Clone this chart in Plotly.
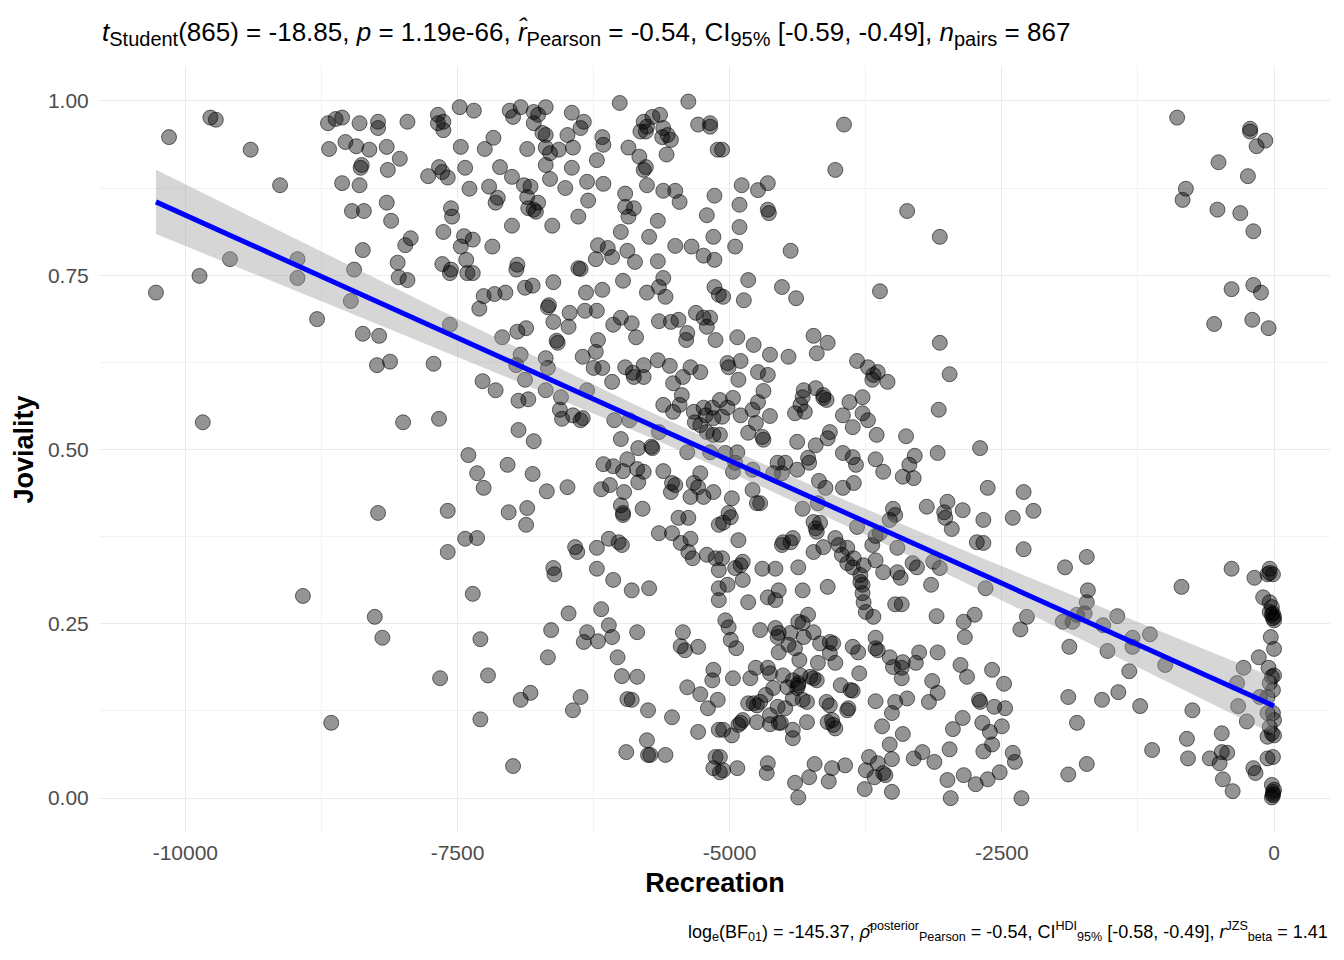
import numpy as np
import plotly.graph_objects as go

# (recreation, joviality) pairs, grouped by region
far_left = [
    (-10150, 0.948), (-9770, 0.976), (-9720, 0.973), (-9400, 0.930), (-9130, 0.879),
    (-9590, 0.773), (-9870, 0.749), (-10270, 0.725), (-8970, 0.773), (-8970, 0.746),
    (-8790, 0.687), (-8480, 0.713), (-8450, 0.758), (-8370, 0.786), (-8370, 0.666),
    (-8220, 0.663), (-8690, 0.968), (-8620, 0.974), (-8560, 0.976), (-8400, 0.968),
    (-8230, 0.970), (-8230, 0.961), (-7960, 0.970), (-8680, 0.931), (-8530, 0.941),
    (-8430, 0.935), (-8310, 0.930), (-8150, 0.934), (-8030, 0.917), (-8390, 0.904),
    (-8380, 0.908), (-8140, 0.901), (-8560, 0.882), (-8400, 0.879), (-8150, 0.854),
    (-8470, 0.842), (-8360, 0.842), (-8110, 0.828), (-7980, 0.793), (-7930, 0.803),
    (-8050, 0.768), (-8040, 0.747), (-7960, 0.743), (-8240, 0.621), (-8120, 0.626),
    (-9840, 0.539), (-8000, 0.539), (-8230, 0.409), (-8920, 0.290), (-8260, 0.260),
    (-8190, 0.230), (-8660, 0.108),
]

upper_mid = [
    (-7680, 0.980), (-7630, 0.970), (-7630, 0.958), (-7680, 0.968), (-7480, 0.991),
    (-7350, 0.986), (-7020, 0.986), (-6990, 0.977), (-6920, 0.991), (-6800, 0.984),
    (-6760, 0.980), (-6690, 0.991), (-6800, 0.968), (-6720, 0.954), (-6690, 0.951),
    (-6450, 0.983), (-6340, 0.970), (-6370, 0.961), (-6010, 0.997), (-5380, 0.999),
    (-6490, 0.951), (-6170, 0.948), (-6160, 0.937), (-5790, 0.970), (-5760, 0.963),
    (-5710, 0.977), (-5640, 0.980), (-5770, 0.956), (-5820, 0.956), (-5610, 0.961),
    (-5620, 0.948), (-5570, 0.951), (-5540, 0.944), (-5290, 0.966), (-5180, 0.968),
    (-5180, 0.963), (-7470, 0.934), (-7250, 0.931), (-7170, 0.947), (-6860, 0.931),
    (-6690, 0.933), (-6650, 0.925), (-6570, 0.930), (-6440, 0.933), (-6690, 0.908),
    (-6450, 0.904), (-6220, 0.915), (-5930, 0.933), (-5830, 0.920), (-5770, 0.905),
    (-5790, 0.901), (-5580, 0.923), (-5110, 0.930), (-7670, 0.905), (-7770, 0.892),
    (-7640, 0.898), (-7590, 0.890), (-7430, 0.904), (-7110, 0.905), (-7000, 0.891),
    (-7390, 0.874), (-7210, 0.877), (-6890, 0.879), (-6830, 0.877), (-6860, 0.862),
    (-6650, 0.888), (-6510, 0.875), (-6310, 0.884), (-6160, 0.881), (-5760, 0.879),
    (-5610, 0.871), (-5500, 0.871), (-5460, 0.855), (-5960, 0.867), (-7130, 0.861),
    (-7150, 0.854), (-6760, 0.854), (-6800, 0.844), (-6850, 0.846), (-6780, 0.841),
    (-6300, 0.857), (-7560, 0.846), (-7550, 0.834), (-5960, 0.848), (-5880, 0.846),
    (-5930, 0.834), (-6390, 0.834), (-5140, 0.864), (-5210, 0.836), (-5660, 0.828),
    (-7000, 0.821), (-6630, 0.821), (-7630, 0.812), (-6000, 0.812), (-5740, 0.805),
    (-5150, 0.805), (-7440, 0.806), (-7360, 0.801), (-7470, 0.791), (-7180, 0.791),
    (-6210, 0.793), (-6120, 0.789), (-6230, 0.773), (-6080, 0.776), (-5940, 0.785),
    (-5870, 0.769), (-5500, 0.792), (-5350, 0.791), (-5240, 0.778), (-5140, 0.772),
    (-5660, 0.770), (-7640, 0.766), (-7560, 0.758), (-7570, 0.753), (-7420, 0.772),
    (-7410, 0.753), (-7360, 0.753), (-6950, 0.765), (-6960, 0.758), (-6390, 0.760),
    (-6370, 0.759), (-6620, 0.740), (-5980, 0.742), (-5610, 0.746), (-5650, 0.733),
    (-5590, 0.719), (-5760, 0.725), (-5140, 0.733), (-5100, 0.722), (-7260, 0.720),
    (-7160, 0.723), (-7060, 0.725), (-7300, 0.702), (-6880, 0.732), (-6810, 0.735),
    (-6320, 0.725), (-6170, 0.729), (-6670, 0.704), (-6660, 0.707), (-6620, 0.683),
    (-6470, 0.696), (-6480, 0.676), (-6330, 0.699), (-6220, 0.699), (-6070, 0.679),
    (-6000, 0.689), (-5900, 0.681), (-5860, 0.661), (-5650, 0.684), (-5540, 0.683),
    (-5470, 0.686), (-5310, 0.696), (-5240, 0.689), (-5210, 0.676), (-5180, 0.689),
    (-5390, 0.667), (-5400, 0.657), (-5130, 0.657), (-7570, 0.679), (-7090, 0.661),
    (-6950, 0.669), (-6870, 0.674), (-6590, 0.656), (-6580, 0.653), (-6210, 0.657),
]

upper_right = [
    (-3950, 0.966), (-5070, 0.930), (-4030, 0.901), (-4890, 0.879), (-4740, 0.872),
    (-4650, 0.882), (-4910, 0.851), (-4650, 0.844), (-4640, 0.839), (-3370, 0.842),
    (-4910, 0.819), (-3070, 0.805), (-4950, 0.791), (-4440, 0.785), (-4830, 0.743),
    (-5060, 0.719), (-4870, 0.714), (-4520, 0.733), (-4390, 0.717), (-3620, 0.727),
    (-4930, 0.661), (-4230, 0.663), (-4100, 0.653), (-3070, 0.653), (-4780, 0.650),
    (-890, 0.976), (-220, 0.960), (-220, 0.956), (-80, 0.943), (-160, 0.935),
    (-510, 0.912), (-240, 0.892), (-810, 0.874), (-840, 0.858), (-520, 0.844),
    (-310, 0.839), (-190, 0.813), (-390, 0.730), (-190, 0.736), (-120, 0.725),
    (-550, 0.680), (-200, 0.686), (-50, 0.674),
]

middle_mid = [
    (-7720, 0.623), (-7270, 0.598), (-7150, 0.585), (-6960, 0.621), (-6920, 0.636),
    (-6880, 0.600), (-6690, 0.631), (-6670, 0.617), (-6690, 0.585), (-6940, 0.570),
    (-6850, 0.572), (-6550, 0.575), (-6560, 0.557), (-6540, 0.544), (-6440, 0.549),
    (-6370, 0.542), (-6350, 0.545), (-6350, 0.633), (-6250, 0.617), (-6170, 0.617),
    (-6230, 0.640), (-6310, 0.585), (-6080, 0.597), (-5960, 0.618), (-5890, 0.610),
    (-5790, 0.604), (-5790, 0.621), (-5880, 0.604), (-5660, 0.628), (-5550, 0.620),
    (-5360, 0.618), (-5270, 0.611), (-5430, 0.604), (-5520, 0.595), (-5440, 0.578),
    (-5610, 0.564), (-5520, 0.554), (-5460, 0.564), (-5330, 0.554), (-5240, 0.560),
    (-5160, 0.560), (-5150, 0.545), (-5320, 0.539), (-5270, 0.535), (-5220, 0.549),
    (-5210, 0.525), (-5150, 0.521), (-6060, 0.542), (-5920, 0.542), (-6000, 0.515),
    (-7670, 0.544), (-6940, 0.528), (-6800, 0.512), (-5840, 0.502), (-5720, 0.504),
    (-5710, 0.502), (-5650, 0.525), (-5390, 0.496), (-5180, 0.496), (-7400, 0.492),
    (-7320, 0.466), (-7260, 0.445), (-7040, 0.478), (-6810, 0.465), (-6680, 0.440),
    (-6490, 0.446), (-6160, 0.479), (-6070, 0.476), (-5940, 0.486), (-5980, 0.469),
    (-5850, 0.472), (-5790, 0.468), (-5840, 0.453), (-6180, 0.443), (-6100, 0.449),
    (-5970, 0.439), (-5610, 0.469), (-5530, 0.452), (-5500, 0.449), (-5540, 0.439),
    (-5330, 0.452), (-5290, 0.446), (-5270, 0.466), (-5360, 0.432), (-5240, 0.432),
    (-5150, 0.439), (-6000, 0.420), (-5980, 0.409), (-5980, 0.406), (-5800, 0.415),
    (-7590, 0.412), (-7030, 0.410), (-6860, 0.416), (-6870, 0.392), (-5470, 0.402),
    (-5380, 0.402), (-5100, 0.392), (-5650, 0.380), (-5530, 0.380), (-7430, 0.372),
    (-7320, 0.373), (-7590, 0.353), (-6420, 0.360), (-6400, 0.353), (-6220, 0.359),
    (-6110, 0.372), (-6020, 0.367), (-5990, 0.363), (-5450, 0.366), (-5360, 0.372),
    (-5380, 0.353), (-5340, 0.344), (-5210, 0.349), (-5130, 0.344), (-5100, 0.327),
    (-6620, 0.330), (-6610, 0.321), (-6220, 0.329), (-6070, 0.313), (-5900, 0.298),
    (-5740, 0.301), (-7360, 0.293), (-5100, 0.301), (-5100, 0.284),
]

middle_right = [
    (-4630, 0.636), (-4460, 0.633), (-4200, 0.638), (-5020, 0.624), (-5010, 0.618),
    (-4900, 0.627), (-4920, 0.600), (-4740, 0.611), (-4650, 0.607), (-3830, 0.627),
    (-3730, 0.618), (-3680, 0.607), (-3640, 0.611), (-3550, 0.597), (-3690, 0.600),
    (-2980, 0.608), (-4970, 0.574), (-5090, 0.571), (-4690, 0.584), (-4740, 0.568),
    (-4330, 0.575), (-4320, 0.585), (-4210, 0.588), (-4140, 0.578), (-4110, 0.571),
    (-4140, 0.574), (-4350, 0.564), (-3900, 0.568), (-3780, 0.575), (-5020, 0.560),
    (-4900, 0.549), (-4790, 0.557), (-4630, 0.548), (-4400, 0.552), (-4310, 0.554),
    (-3960, 0.549), (-3780, 0.552), (-3730, 0.542), (-3870, 0.532), (-3080, 0.557),
    (-5070, 0.547), (-4760, 0.538), (-4830, 0.524), (-4700, 0.518), (-4690, 0.514),
    (-5090, 0.521), (-4380, 0.511), (-4210, 0.506), (-4080, 0.525), (-4100, 0.516),
    (-3650, 0.521), (-3380, 0.519), (-4930, 0.496), (-5040, 0.495), (-4950, 0.481),
    (-4790, 0.471), (-4970, 0.468), (-4280, 0.488), (-4270, 0.481), (-4560, 0.481),
    (-4490, 0.481), (-4380, 0.471), (-4600, 0.466), (-4520, 0.466), (-3960, 0.495),
    (-3870, 0.489), (-3840, 0.478), (-3660, 0.486), (-3590, 0.468), (-3300, 0.491),
    (-3350, 0.478), (-3410, 0.461), (-3310, 0.459), (-3090, 0.495), (-2700, 0.502),
    (-4180, 0.455), (-4120, 0.445), (-3960, 0.445), (-3860, 0.452), (-4790, 0.442),
    (-4980, 0.430), (-4750, 0.423), (-4720, 0.423), (-2630, 0.445), (-2300, 0.439),
    (-4330, 0.415), (-4190, 0.423), (-3500, 0.415), (-3480, 0.406), (-3530, 0.399),
    (-3190, 0.418), (-3000, 0.425), (-3030, 0.410), (-3020, 0.402), (-2960, 0.386),
    (-2860, 0.413), (-2670, 0.399), (-2400, 0.402), (-2210, 0.412), (-5060, 0.395),
    (-4990, 0.403), (-5010, 0.409), (-4230, 0.396), (-4210, 0.387), (-4200, 0.382),
    (-4170, 0.395), (-3830, 0.389), (-3660, 0.376), (-3620, 0.380), (-3690, 0.363),
    (-3460, 0.359), (-4920, 0.370), (-4510, 0.367), (-4440, 0.367), (-4420, 0.373),
    (-4520, 0.363), (-4230, 0.353), (-4140, 0.360), (-4030, 0.373), (-4000, 0.363),
    (-3920, 0.359), (-3970, 0.349), (-2730, 0.367), (-2670, 0.366), (-2300, 0.357),
    (-5070, 0.344), (-4900, 0.334), (-4880, 0.339), (-4950, 0.330), (-4700, 0.329),
    (-4580, 0.329), (-4370, 0.331), (-3920, 0.337), (-3860, 0.344), (-3870, 0.331),
    (-3770, 0.334), (-3660, 0.341), (-3320, 0.337), (-3280, 0.331), (-3130, 0.339),
    (-3070, 0.330), (-3590, 0.324), (-3460, 0.324), (-3430, 0.316), (-3800, 0.320),
    (-3800, 0.310), (-3780, 0.306), (-4880, 0.313), (-5020, 0.306), (-4550, 0.298),
    (-4650, 0.288), (-4580, 0.284), (-4330, 0.298), (-4100, 0.303), (-3780, 0.294),
    (-3770, 0.281), (-3150, 0.306), (-2650, 0.301), (-4830, 0.281), (-3480, 0.278),
    (-3420, 0.278), (-1920, 0.331), (-1720, 0.346), (-1710, 0.298), (-1720, 0.281),
    (-850, 0.303), (-390, 0.329), (-180, 0.316), (-60, 0.321), (-40, 0.323),
    (-10, 0.321),
]

lower_mid = [
    (-6480, 0.265), (-6180, 0.271), (-6110, 0.248), (-6080, 0.231), (-6310, 0.238),
    (-6340, 0.224), (-6210, 0.225), (-6640, 0.241), (-7290, 0.228), (-6670, 0.202),
    (-6030, 0.202), (-5850, 0.238), (-5430, 0.238), (-5450, 0.218), (-5410, 0.212),
    (-5290, 0.217), (-7660, 0.172), (-7220, 0.176), (-5990, 0.175), (-5850, 0.174),
    (-5150, 0.184), (-5160, 0.169), (-6830, 0.151), (-6920, 0.141), (-6370, 0.145),
    (-6440, 0.126), (-5940, 0.142), (-5900, 0.141), (-5750, 0.126), (-5530, 0.116),
    (-5390, 0.159), (-5270, 0.149), (-5200, 0.129), (-5110, 0.141), (-7290, 0.113),
    (-5290, 0.095), (-5100, 0.098), (-5760, 0.083), (-5950, 0.066), (-5750, 0.062),
    (-5730, 0.062), (-5590, 0.062), (-6990, 0.046), (-5130, 0.059), (-5150, 0.043),
    (-5090, 0.037),
]

lower_right = [
    (-3680, 0.260), (-3750, 0.267), (-3100, 0.261), (-2850, 0.253), (-2750, 0.263),
    (-2840, 0.231), (-2270, 0.260), (-2330, 0.242), (-5040, 0.255), (-5010, 0.245),
    (-4990, 0.227), (-4940, 0.215), (-4720, 0.241), (-4580, 0.244), (-4550, 0.237),
    (-4560, 0.231), (-4440, 0.237), (-4370, 0.253), (-4330, 0.251), (-4280, 0.263),
    (-4230, 0.238), (-4320, 0.231), (-4550, 0.209), (-4460, 0.220), (-4400, 0.215),
    (-4360, 0.198), (-4170, 0.222), (-4080, 0.224), (-4050, 0.222), (-4080, 0.208),
    (-4030, 0.194), (-4190, 0.194), (-3870, 0.217), (-3820, 0.209), (-3660, 0.230),
    (-3660, 0.215), (-3640, 0.212), (-3530, 0.202), (-3500, 0.188), (-3410, 0.195),
    (-3420, 0.187), (-3290, 0.194), (-3260, 0.209), (-3090, 0.209), (-3420, 0.172),
    (-3810, 0.179), (-4970, 0.172), (-4810, 0.172), (-4760, 0.187), (-4650, 0.187),
    (-4630, 0.179), (-4510, 0.176), (-4420, 0.169), (-4350, 0.176), (-4370, 0.165),
    (-4260, 0.174), (-4200, 0.169), (-4230, 0.172), (-4600, 0.158), (-4470, 0.159),
    (-4380, 0.158), (-4370, 0.162), (-4670, 0.148), (-4420, 0.143), (-4290, 0.138),
    (-4330, 0.141), (-4110, 0.138), (-4080, 0.133), (-3980, 0.162), (-3890, 0.155),
    (-3870, 0.154), (-3910, 0.129), (-3920, 0.126), (-4830, 0.136), (-4780, 0.136),
    (-4750, 0.133), (-4720, 0.138), (-4560, 0.131), (-4490, 0.129), (-4630, 0.119),
    (-4750, 0.109), (-4880, 0.112), (-4900, 0.108), (-4550, 0.108), (-4530, 0.108),
    (-4630, 0.106), (-5060, 0.098), (-4980, 0.090), (-4920, 0.105), (-4420, 0.098),
    (-4420, 0.086), (-4290, 0.109), (-4100, 0.109), (-4050, 0.105), (-4030, 0.100),
    (-4060, 0.112), (-3660, 0.139), (-3480, 0.138), (-3370, 0.143), (-3510, 0.122),
    (-3600, 0.103), (-3410, 0.092), (-3530, 0.077), (-3170, 0.138), (-3140, 0.168),
    (-3090, 0.151), (-2880, 0.191), (-2820, 0.174), (-2590, 0.184), (-2480, 0.164),
    (-2710, 0.141), (-2700, 0.138), (-2570, 0.131), (-2470, 0.129), (-2860, 0.115),
    (-2950, 0.099), (-2680, 0.108), (-2610, 0.095), (-2500, 0.103), (-2670, 0.067),
    (-2590, 0.077), (-2400, 0.065), (-2380, 0.052), (-2980, 0.070), (-3230, 0.066),
    (-3310, 0.057), (-3120, 0.052), (-3720, 0.059), (-3640, 0.050), (-3590, 0.036),
    (-3570, 0.033), (-3750, 0.040), (-3670, 0.030), (-3510, 0.056), (-5090, 0.059),
    (-5060, 0.040), (-4930, 0.043), (-4650, 0.050), (-4660, 0.036), (-4220, 0.049),
    (-4270, 0.030), (-4400, 0.022), (-4370, 0.001), (-4060, 0.043), (-4090, 0.024),
    (-3940, 0.047), (-3760, 0.013), (-3510, 0.009), (-3000, 0.026), (-2970, 0.000),
    (-2850, 0.033), (-2740, 0.020), (-2630, 0.027), (-2520, 0.037), (-2320, 0.000),
]

near_zero = [
    (-1740, 0.265), (-1810, 0.263), (-1940, 0.253), (-1850, 0.253), (-1440, 0.261),
    (-1570, 0.248), (-1880, 0.217), (-1530, 0.211), (-1300, 0.230), (-1300, 0.217),
    (-1140, 0.235), (-1000, 0.191), (-1330, 0.182), (-1890, 0.145), (-1580, 0.141),
    (-1430, 0.152), (-1230, 0.132), (-1810, 0.108), (-1720, 0.049), (-1890, 0.034),
    (-1120, 0.069), (-750, 0.126), (-800, 0.085), (-790, 0.057), (-480, 0.093),
    (-480, 0.066), (-430, 0.065), (-590, 0.057), (-500, 0.050), (-470, 0.027),
    (-380, 0.010), (-190, 0.043), (-170, 0.036), (-40, 0.329), (-280, 0.187),
    (-340, 0.165), (-140, 0.202), (-330, 0.132), (-250, 0.110), (-130, 0.145),
    (-100, 0.288), (-40, 0.281), (-20, 0.274), (-40, 0.267), (-20, 0.263),
    (-10, 0.258), (0, 0.255), (0, 0.260), (-10, 0.265), (-30, 0.231),
    (0, 0.214), (-50, 0.187), (-20, 0.174), (0, 0.176), (-40, 0.165),
    (-10, 0.155), (-60, 0.145), (-60, 0.122), (-10, 0.122), (0, 0.112),
    (-40, 0.102), (-20, 0.093), (-60, 0.088), (0, 0.090), (-60, 0.057),
    (-10, 0.059), (-20, 0.019), (-10, 0.009), (-10, 0.004), (-20, 0.001),
    (0, 0.012), (-10, 0.006),
]

regions = [far_left, upper_mid, upper_right, middle_mid, middle_right,
           lower_mid, lower_right, near_zero]
pts = np.array([p for r in regions for p in r], dtype=float)
recreation = pts[:, 0]
joviality = pts[:, 1]

# linear fit with 95% confidence band
n = len(recreation)
slope, intercept = np.polyfit(recreation, joviality, 1)
resid = joviality - (intercept + slope * recreation)
s = np.sqrt(np.sum(resid ** 2) / (n - 2))
xm = recreation.mean()
sxx = np.sum((recreation - xm) ** 2)
xs = np.linspace(recreation.min(), recreation.max(), 80)
fit = intercept + slope * xs
se = s * np.sqrt(1 / n + (xs - xm) ** 2 / sxx)
t_crit = 1.963
lo = fit - t_crit * se
hi = fit + t_crit * se

FONT = "Liberation Sans, Arial, sans-serif"

fig = go.Figure()
fig.add_trace(go.Scatter(
    x=recreation, y=joviality, mode="markers",
    marker=dict(size=15, color="rgba(0,0,0,0.42)",
                line=dict(color="rgba(0,0,0,0.55)", width=1)),
    hoverinfo="skip", showlegend=False,
))
fig.add_trace(go.Scatter(
    x=np.concatenate([xs, xs[::-1]]), y=np.concatenate([hi, lo[::-1]]),
    fill="toself", fillcolor="rgba(153,153,153,0.4)", line=dict(width=0),
    mode="lines", hoverinfo="skip", showlegend=False,
))
fig.add_trace(go.Scatter(
    x=xs, y=fit, mode="lines", line=dict(color="#0000ff", width=5),
    hoverinfo="skip", showlegend=False,
))


def sub(t, px=20):
    return f'<sub><span style="font-size:{px}px">{t}</span></sub>'


subtitle = (f"<i>t</i>{sub('Student')}(865) = -18.85, <i>p</i> = 1.19e-66, "
            f"<i>r\u0302</i>{sub('Pearson')} = -0.54, CI{sub('95%')} [-0.59, -0.49], "
            f"<i>n</i>{sub('pairs')} = 867")
caption = ("log<sub>e</sub>(BF<sub>01</sub>) = -145.37, "
           "<i>\u03c1\u0302</i><sup>posterior</sup><sub>Pearson</sub> = -0.54, "
           "CI<sup>HDI</sup><sub>95%</sub> [-0.58, -0.49], "
           "<i>r</i><sup>JZS</sup><sub>beta</sub> = 1.41")

fig.add_annotation(text=subtitle, xref="paper", yref="paper", x=0, y=1.0,
                   xanchor="left", yanchor="bottom", yshift=14, showarrow=False,
                   font=dict(size=26, color="black", family=FONT))
fig.add_annotation(text=caption, xref="paper", yref="paper", x=1.0, y=0,
                   xanchor="right", yanchor="top", yshift=-84, showarrow=False,
                   font=dict(size=18, color="black", family=FONT))

# page body has an 8px margin, so the figure is sized to fit the 1344x960 window
fig.update_layout(
    width=1336, height=952,
    margin=dict(l=92, r=14, t=58, b=127),
    plot_bgcolor="white", paper_bgcolor="white",
    font=dict(family=FONT),
)
fig.update_xaxes(
    range=[-10784, 514],
    tickvals=[-10000, -7500, -5000, -2500, 0],
    ticktext=["-10000", "-7500", "-5000", "-2500", "0"],
    showgrid=True, gridcolor="#ebebeb", gridwidth=1.3,
    minor=dict(showgrid=True, gridcolor="#f2f2f2", dtick=1250, tick0=0),
    zeroline=False, showline=False,
    ticks="outside", ticklen=1, tickcolor="rgba(0,0,0,0)",
    tickfont=dict(size=21, color="#4d4d4d"),
    title=dict(text="<b>Recreation</b>", font=dict(size=27, color="black"), standoff=9),
    automargin=False,
)
fig.update_yaxes(
    range=[-0.05, 1.05],
    tickvals=[0, 0.25, 0.5, 0.75, 1.0],
    ticktext=["0.00", "0.25", "0.50", "0.75", "1.00"],
    showgrid=True, gridcolor="#ebebeb", gridwidth=1.3,
    minor=dict(showgrid=True, gridcolor="#f2f2f2", dtick=0.125, tick0=0),
    zeroline=False, showline=False,
    ticks="outside", ticklen=6, tickcolor="rgba(0,0,0,0)",
    tickfont=dict(size=21, color="#4d4d4d"),
    title=dict(text="<b>Joviality</b>", font=dict(size=27, color="black"), standoff=6),
    automargin=False,
)

fig.write_html("out.html")
